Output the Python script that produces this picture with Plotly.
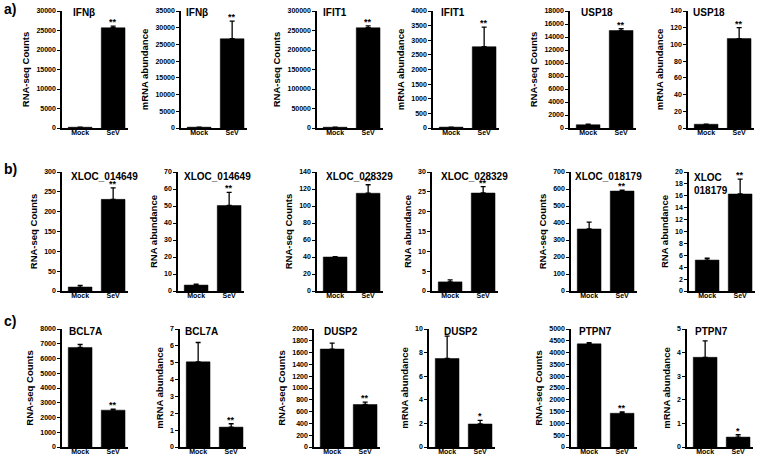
import plotly.graph_objects as go

W, H = 760, 460
FONT = "Liberation Sans, Arial, sans-serif"

categories = ["Mock", "SeV"]
titles = ["IFNβ", "IFNβ", "IFIT1", "IFIT1", "USP18", "USP18",
          "XLOC_014649", "XLOC_014649", "XLOC_028329", "XLOC_028329", "XLOC_018179", "XLOC<br>018179",
          "BCL7A", "BCL7A", "DUSP2", "DUSP2", "PTPN7", "PTPN7"]
ylabels = ["RNA-seq Counts", "mRNA abundance", "RNA-seq Counts", "mRNA abundance", "RNA-seq Counts", "mRNA abundance",
           "RNA-seq Counts", "RNA abundance", "RNA-seq Counts", "RNA abundance", "RNA-seq Counts", "RNA abundance",
           "RNA-seq Counts", "mRNA abundance", "RNA-seq Counts", "mRNA abundance", "RNA-seq Counts", "mRNA abundance"]
mock_vals = [200, 250, 2000, 30, 500, 4.5,
             10, 3.5, 40, 2.3, 365, 5.2,
             6750, 5.05, 1660, 7.5, 4370, 3.8]
mock_errs = [0, 0, 0, 0, 100, 0,
             4, 0.5, 0.3, 0.5, 40, 0.3,
             200, 1.15, 100, 1.9, 50, 0.7]
sev_vals = [25700, 26700, 257000, 2780, 15000, 107,
            231, 50.3, 115, 24.7, 588, 16.3,
            2500, 1.18, 720, 1.95, 1430, 0.42]
sev_errs = [400, 5300, 5000, 670, 300, 13,
            29, 7.7, 10, 1.6, 5, 2.5,
            60, 0.2, 40, 0.3, 60, 0.1]
y_max = [30000, 35000, 300000, 4000, 18000, 140,
         300, 70, 140, 30, 700, 20,
         8000, 7, 2000, 10, 5000, 5]
y_step = [5000, 5000, 50000, 500, 2000, 20,
          50, 10, 20, 5, 100, 2,
          1000, 1, 200, 2, 500, 1]
stars = ["**", "**", "**", "**", "**", "**",
         "**", "**", "**", "**", "**", "**",
         "**", "**", "**", "*", "**", "*"]
row_labels = ["a)", "b)", "c)"]

# ---- layout geometry (pixels) ----
axis_px = [62, 181, 317, 433, 570, 688,
           62, 178, 317, 432, 571, 689,
           62, 180, 314, 429, 571, 687]
row_top = [11, 172, 329]
row_bot = [128, 291, 447]
panel_w = 66
title_dx = [9, 3, 4, 6, 9, 3,
            7, 4, 7, 7, 2, 3,
            5, 3, 8, 13, 6, 6]
title_y = [13, 176, 331]
label_y = [9, 169, 321]

fig = go.Figure()
annotations = []

for i in range(18):
    r = i // 6
    n = i + 1
    xa = "x" if n == 1 else f"x{n}"
    ya = "y" if n == 1 else f"y{n}"
    yb = f"y{n + 18}"
    fig.add_trace(go.Bar(
        x=categories, y=[mock_vals[i], sev_vals[i]],
        xaxis=xa, yaxis=ya, width=0.72,
        marker=dict(color="black", line=dict(color="black", width=0.5)),
        error_y=dict(type="data", symmetric=False,
                     array=[mock_errs[i], sev_errs[i]], arrayminus=[0, 0],
                     color="black", thickness=1.3, width=2.5),
        showlegend=False, hoverinfo="skip"))
    x0 = axis_px[i] / W
    x1 = (axis_px[i] + panel_w) / W
    y0 = 1 - row_bot[r] / H
    y1 = 1 - row_top[r] / H
    fig.layout[f"xaxis{'' if n == 1 else n}"] = dict(
        domain=[x0, x1], anchor=ya, type="category", range=[-0.55, 1.45],
        showline=True, linecolor="black", linewidth=1.5, ticks="",
        showgrid=False, zeroline=False, fixedrange=True, automargin=False,
        ticklabelstandoff=-3,
        tickfont=dict(family=FONT, size=7, color="black", weight="bold"))
    fig.layout[f"yaxis{'' if n == 1 else n}"] = dict(
        domain=[y0, y1], anchor=xa, range=[0, y_max[i]], dtick=y_step[i], tick0=0,
        tickformat="d", showline=True, linecolor="black", linewidth=1.5,
        ticks="outside", ticklen=3, tickwidth=1.2, tickcolor="black",
        showgrid=False, zeroline=False, fixedrange=True, automargin=False,
        tickfont=dict(family=FONT, size=7, color="black", weight="bold"),
        title=dict(text=ylabels[i], standoff=5,
                   font=dict(family=FONT, size=9.5, color="black", weight="bold")))
    # inner half of the crossing tick marks
    fig.layout[f"yaxis{n + 18}"] = dict(
        domain=[y0, y1], anchor=xa, overlaying=ya, side="left",
        range=[0, y_max[i]], dtick=y_step[i], tick0=0,
        showline=False, showticklabels=False, ticks="inside", ticklen=2,
        tickwidth=1.2, tickcolor="black", showgrid=False, zeroline=False,
        fixedrange=True, automargin=False)
    # gene title
    annotations.append(dict(
        xref="paper", yref="paper", x=(axis_px[i] + title_dx[i]) / W, y=1 - title_y[r] / H,
        xanchor="left", yanchor="top" if "<br>" in titles[i] else "middle",
        yshift=6 if "<br>" in titles[i] else 0,
        text=f"<b>{titles[i]}</b>", showarrow=False, align="left",
        font=dict(family=FONT, size=10, color="black")))
    # significance stars
    annotations.append(dict(
        xref=xa, yref=ya, x="SeV", y=sev_vals[i] + sev_errs[i],
        xanchor="center", yanchor="bottom", yshift=-3,
        text=f"<b>{stars[i]}</b>", showarrow=False,
        font=dict(family=FONT, size=9, color="black")))

for r in range(3):
    annotations.append(dict(
        xref="paper", yref="paper", x=2 / W, y=1 - label_y[r] / H,
        xanchor="left", yanchor="middle", text=f"<b>{row_labels[r]}</b>",
        showarrow=False, font=dict(family=FONT, size=14, color="black")))

fig.update_layout(
    width=W, height=H, margin=dict(l=0, r=0, t=0, b=0, autoexpand=False),
    paper_bgcolor="white", plot_bgcolor="white",
    bargap=0.2, annotations=annotations,
    font=dict(family=FONT, color="black"))

fig.write_html("out.html", config={"displayModeBar": False},
               post_script="document.body.style.margin='0';document.body.style.padding='0';")
